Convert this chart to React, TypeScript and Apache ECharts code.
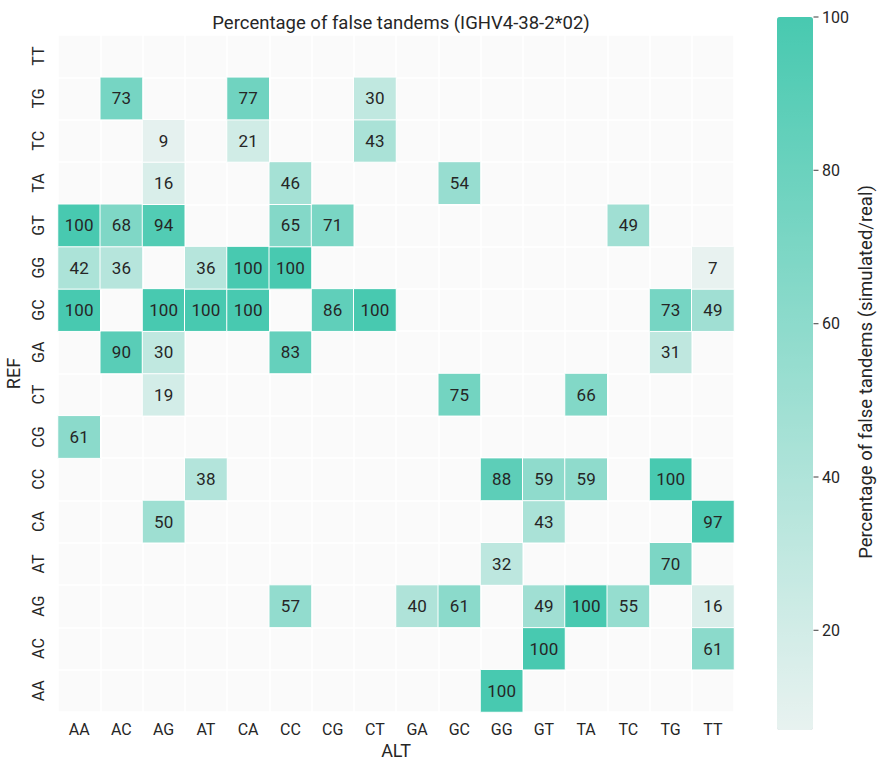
import React, { useEffect, useRef } from "react";
import * as echarts from "echarts";

const altCategories = ["AA", "AC", "AG", "AT", "CA", "CC", "CG", "CT", "GA", "GC", "GG", "GT", "TA", "TC", "TG", "TT"];
const refCategories = ["AA", "AC", "AG", "AT", "CA", "CC", "CG", "CT", "GA", "GC", "GG", "GT", "TA", "TC", "TG", "TT"];

const _ = null;
//             AA   AC   AG   AT   CA   CC   CG   CT   GA   GC   GG   GT   TA   TC   TG   TT
const refAA = [_, _, _, _, _, _, _, _, _, _, 100, _, _, _, _, _];
const refAC = [_, _, _, _, _, _, _, _, _, _, _, 100, _, _, _, 61];
const refAG = [_, _, _, _, _, 57, _, _, 40, 61, _, 49, 100, 55, _, 16];
const refAT = [_, _, _, _, _, _, _, _, _, _, 32, _, _, _, 70, _];
const refCA = [_, _, 50, _, _, _, _, _, _, _, _, 43, _, _, _, 97];
const refCC = [_, _, _, 38, _, _, _, _, _, _, 88, 59, 59, _, 100, _];
const refCG = [61, _, _, _, _, _, _, _, _, _, _, _, _, _, _, _];
const refCT = [_, _, 19, _, _, _, _, _, _, 75, _, _, 66, _, _, _];
const refGA = [_, 90, 30, _, _, 83, _, _, _, _, _, _, _, _, 31, _];
const refGC = [100, _, 100, 100, 100, _, 86, 100, _, _, _, _, _, _, 73, 49];
const refGG = [42, 36, _, 36, 100, 100, _, _, _, _, _, _, _, _, _, 7];
const refGT = [100, 68, 94, _, _, 65, 71, _, _, _, _, _, _, 49, _, _];
const refTA = [_, _, 16, _, _, 46, _, _, _, 54, _, _, _, _, _, _];
const refTC = [_, _, 9, _, 21, _, _, 43, _, _, _, _, _, _, _, _];
const refTG = [_, 73, _, _, 77, _, _, 30, _, _, _, _, _, _, _, _];
const refTT = [_, _, _, _, _, _, _, _, _, _, _, _, _, _, _, _];

const rows = [refAA, refAC, refAG, refAT, refCA, refCC, refCG, refCT, refGA, refGC, refGG, refGT, refTA, refTC, refTG, refTT];

const colorbarTicks = [20, 40, 60, 80, 100];
const colorbarTickStep = 20;
const scaleMin = 7;
const scaleMax = 100;

const FONT = "Roboto";
const TEXT = "#262626";

export default function App() {
  const ref = useRef<HTMLDivElement>(null);
  useEffect(() => {
    document.body.style.margin = "0";
    const chart = echarts.init(ref.current!, undefined, { renderer: "svg" });
    const data: any[] = [];
    rows.forEach((row, yi) => {
      row.forEach((v, xi) => {
        if (v !== null) data.push([xi, yi, v]);
      });
    });

    // colour bar geometry
    const cbTop = 17;
    const cbHeight = 713;
    const cbLeft = 777;
    const cbWidth = 36;
    const pxPerUnit = cbHeight / (scaleMax - scaleMin);
    const axisHeight = pxPerUnit * scaleMax; // axis runs from 0 to 100; 0 falls below the page

    chart.setOption({
      animation: false,
      backgroundColor: "#ffffff",
      textStyle: { fontFamily: FONT },
      title: {
        text: "Percentage of false tandems (IGHV4-38-2*02)",
        left: 396,
        top: 8,
        textAlign: "center",
        textStyle: { fontFamily: FONT, fontSize: 18.5, fontWeight: "normal", color: TEXT },
      },
      grid: [
        { left: 58, top: 35, width: 676, height: 677, show: true, backgroundColor: "#fafafa", borderWidth: 0, outerBoundsMode: "none", containLabel: false },
        { left: cbLeft, top: cbTop, width: cbWidth, height: axisHeight, show: false, outerBoundsMode: "none", containLabel: false },
      ],
      xAxis: [
        {
          type: "category",
          gridIndex: 0,
          data: altCategories,
          name: "ALT",
          nameLocation: "middle",
          nameGap: 28,
          nameTextStyle: { fontFamily: FONT, fontSize: 18, color: TEXT },
          axisLine: { show: false },
          axisTick: { show: false },
          axisLabel: { fontFamily: FONT, fontSize: 16, color: TEXT, margin: 9 },
          splitLine: { show: true, lineStyle: { color: "#ffffff", width: 1.5 } },
        },
        { type: "value", gridIndex: 1, show: false, min: 0, max: 1 },
      ],
      yAxis: [
        {
          type: "category",
          gridIndex: 0,
          data: refCategories,
          name: "REF",
          nameLocation: "middle",
          nameGap: 36,
          nameRotate: 90,
          nameTextStyle: { fontFamily: FONT, fontSize: 18, color: TEXT },
          axisLine: { show: false },
          axisTick: { show: false },
          axisLabel: { fontFamily: FONT, fontSize: 16, color: TEXT, rotate: 90, margin: 12 },
          splitLine: { show: true, lineStyle: { color: "#ffffff", width: 1.5 } },
        },
        {
          type: "value",
          gridIndex: 1,
          position: "right",
          min: 0,
          max: scaleMax,
          interval: colorbarTickStep,
          axisLine: { show: false },
          axisTick: { show: false },
          axisLabel: { fontFamily: FONT, fontSize: 16, color: TEXT, margin: 9, showMinLabel: false },
          splitLine: { show: false },
        },
      ],
      graphic: [
        {
          type: "text",
          x: 866,
          y: 372,
          rotation: Math.PI / 2,
          style: {
            text: "Percentage of false tandems (simulated/real)",
            fontFamily: FONT,
            fontSize: 18.5,
            fill: TEXT,
            align: "center",
            verticalAlign: "middle",
          },
        },
      ],
      visualMap: {
        type: "continuous",
        seriesIndex: 0,
        dimension: 2,
        min: scaleMin,
        max: scaleMax,
        calculable: false,
        orient: "vertical",
        left: cbLeft,
        top: cbTop,
        padding: 0,
        itemWidth: cbWidth,
        itemHeight: cbHeight,
        text: ["", ""],
        inRange: { color: ["#e8f2f0", "#48c9b0"] },
      },
      series: [
        {
          type: "heatmap",
          xAxisIndex: 0,
          yAxisIndex: 0,
          data,
          label: { show: true, fontFamily: FONT, fontSize: 17, color: TEXT },
          itemStyle: { borderColor: "#ffffff", borderWidth: 1 },
          emphasis: { disabled: true },
        },
        {
          type: "scatter",
          xAxisIndex: 1,
          yAxisIndex: 1,
          silent: true,
          symbol: "rect",
          symbolSize: [5, 1.2],
          symbolOffset: [3, 0],
          itemStyle: { color: "#333333" },
          data: colorbarTicks.map((t) => [1, t]),
          z: 10,
        },
      ],
    });
    return () => chart.dispose();
  }, []);
  return <div ref={ref} style={{ width: 877, height: 762 }} />;
}
